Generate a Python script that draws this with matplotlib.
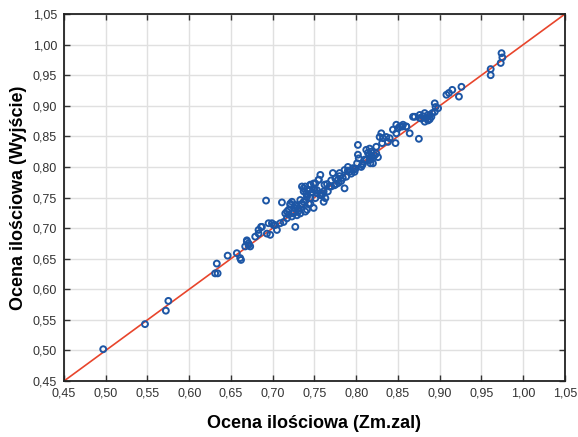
import numpy as np
import matplotlib.pyplot as plt
from matplotlib.ticker import FuncFormatter, MultipleLocator

plt.rcParams['font.family'] = ['Liberation Sans', 'DejaVu Sans']

# ocena (Zm.zal) vs ocena (Wyjscie)
zm_zal = [0.497, 0.547, 0.572, 0.575, 0.631, 0.634, 0.633, 0.646, 0.657, 0.661, 0.662,
          0.667, 0.669, 0.671, 0.673, 0.669, 0.671, 0.679, 0.683, 0.686, 0.687, 0.683,
          0.692, 0.693, 0.697, 0.705, 0.703, 0.699, 0.695, 0.701, 0.709, 0.711, 0.713,
          0.717, 0.715, 0.719, 0.721, 0.723, 0.725, 0.727, 0.729, 0.731, 0.733, 0.735,
          0.737, 0.739, 0.741, 0.743, 0.745, 0.747, 0.749, 0.751, 0.753, 0.755, 0.757,
          0.759, 0.761, 0.763, 0.740, 0.750, 0.745, 0.735, 0.729, 0.721, 0.717, 0.725,
          0.723, 0.733, 0.741, 0.749, 0.727, 0.737, 0.745, 0.743, 0.739, 0.737, 0.741,
          0.745, 0.753, 0.761, 0.759, 0.735, 0.768, 0.772, 0.757, 0.755, 0.751, 0.749,
          0.743, 0.780, 0.778, 0.784, 0.786, 0.790, 0.786, 0.792, 0.796, 0.801, 0.806,
          0.802, 0.802, 0.803, 0.812, 0.816, 0.818, 0.820, 0.817, 0.812, 0.816, 0.818,
          0.822, 0.824, 0.816, 0.814, 0.818, 0.824, 0.828, 0.830, 0.831, 0.832, 0.836,
          0.840, 0.838, 0.844, 0.847, 0.848, 0.848, 0.850, 0.852, 0.855, 0.856, 0.860,
          0.860, 0.864, 0.868, 0.870, 0.875, 0.876, 0.876, 0.880, 0.882, 0.882, 0.884,
          0.886, 0.886, 0.888, 0.891, 0.894, 0.895, 0.878, 0.886, 0.890, 0.894, 0.898,
          0.908, 0.911, 0.915, 0.923, 0.926, 0.961, 0.961, 0.973, 0.975, 0.974, 0.765,
          0.770, 0.775, 0.779, 0.782, 0.788, 0.794, 0.798, 0.807, 0.810, 0.766, 0.774,
          0.776, 0.731, 0.727, 0.719, 0.762, 0.770, 0.780, 0.790, 0.798, 0.808, 0.826,
          0.820, 0.799]
wyjscie = [0.502, 0.543, 0.565, 0.581, 0.626, 0.626, 0.642, 0.655, 0.659, 0.651, 0.648,
           0.670, 0.680, 0.675, 0.670, 0.678, 0.672, 0.686, 0.691, 0.702, 0.702, 0.697,
           0.745, 0.691, 0.689, 0.697, 0.705, 0.708, 0.708, 0.705, 0.708, 0.742, 0.710,
           0.716, 0.724, 0.730, 0.738, 0.719, 0.727, 0.738, 0.721, 0.732, 0.746, 0.740,
           0.760, 0.727, 0.751, 0.740, 0.749, 0.759, 0.733, 0.749, 0.762, 0.779, 0.754,
           0.757, 0.760, 0.749, 0.757, 0.762, 0.771, 0.768, 0.735, 0.740, 0.727, 0.724,
           0.743, 0.724, 0.730, 0.765, 0.702, 0.765, 0.770, 0.762, 0.768, 0.743, 0.754,
           0.740, 0.757, 0.743, 0.754, 0.738, 0.768, 0.790, 0.787, 0.779, 0.773, 0.773,
           0.762, 0.790, 0.779, 0.782, 0.765, 0.800, 0.795, 0.792, 0.798, 0.806, 0.800,
           0.836, 0.820, 0.814, 0.811, 0.820, 0.825, 0.806, 0.806, 0.828, 0.830, 0.817,
           0.819, 0.822, 0.811, 0.823, 0.817, 0.833, 0.849, 0.855, 0.839, 0.847, 0.849,
           0.847, 0.841, 0.861, 0.839, 0.855, 0.869, 0.863, 0.866, 0.866, 0.869, 0.866,
           0.866, 0.855, 0.882, 0.882, 0.846, 0.880, 0.885, 0.883, 0.888, 0.874, 0.880,
           0.885, 0.877, 0.878, 0.888, 0.904, 0.898, 0.879, 0.876, 0.882, 0.890, 0.896,
           0.918, 0.921, 0.926, 0.915, 0.931, 0.960, 0.950, 0.970, 0.979, 0.986, 0.772,
           0.768, 0.781, 0.774, 0.777, 0.784, 0.789, 0.796, 0.803, 0.812, 0.760, 0.770,
           0.772, 0.728, 0.732, 0.722, 0.771, 0.778, 0.785, 0.794, 0.792, 0.805, 0.816,
           0.815, 0.797]

fig = plt.figure(figsize=(5.78, 4.37), dpi=100)
ax = fig.add_axes([0.1107, 0.1281, 0.8668, 0.8398])

ax.plot([0.45, 1.05], [0.45, 1.05], color='#e8452c', lw=1.2, zorder=2)
ax.scatter(zm_zal, wyjscie, s=18, facecolors='none', edgecolors='#1d56a5',
           linewidths=1.4, zorder=3)

ax.set_xlim(0.45, 1.05)
ax.set_ylim(0.45, 1.05)
ax.xaxis.set_major_locator(MultipleLocator(0.05))
ax.yaxis.set_major_locator(MultipleLocator(0.05))
fmt = FuncFormatter(lambda v, p: ('%.2f' % v).replace('.', ','))
ax.xaxis.set_major_formatter(fmt)
ax.yaxis.set_major_formatter(fmt)
ax.grid(True, color='#e0e0e0', lw=1.0, zorder=0)
ax.set_axisbelow(True)
ax.tick_params(direction='in', top=True, right=True, length=4, width=1,
               labelsize=9, colors='#333333', pad=5)
for s in ax.spines.values():
    s.set_linewidth(1.3)
    s.set_color('#222222')

ax.set_xlabel('Ocena ilościowa (Zm.zal)', fontsize=13, fontweight='bold', labelpad=11)
ax.set_ylabel('Ocena ilościowa (Wyjście)', fontsize=13, fontweight='bold', labelpad=4)

plt.savefig('out.png', dpi=100)
